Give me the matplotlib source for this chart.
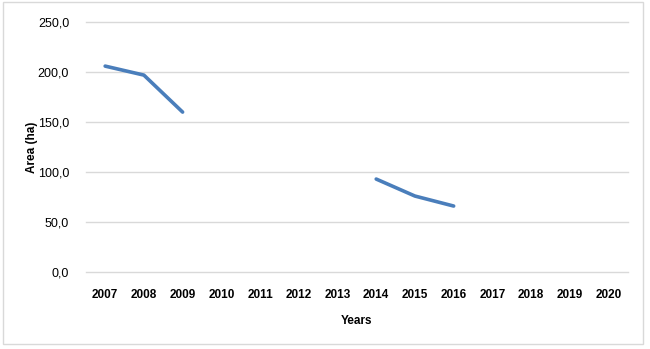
import matplotlib
matplotlib.use("Agg")
import matplotlib.pyplot as plt
import numpy as np
from matplotlib.patches import Rectangle

# --------------------  Data ----------------------- #
years = [str(y) for y in range(2007, 2021)]
area = [206, 197, 160, None, None, None, None, 93, 76, 66, None, None, None, None]
yticks = [0, 50, 100, 150, 200, 250]
ytick_labels = ["0,0", "50,0", "100,0", "150,0", "200,0", "250,0"]

# --------------------  Plot ----------------------- #
plt.rcParams['font.family'] = ['Liberation Sans', 'DejaVu Sans']

fig = plt.figure(figsize=(6.5, 3.49), dpi=100)
fig.patches.append(Rectangle((0.005, 0.015), 0.984, 0.978, transform=fig.transFigure,
                             fill=False, edgecolor='#d9d9d9', linewidth=1))
ax = fig.add_axes([0.132, 0.2206, 0.834, 0.716])

x = np.arange(len(years))
vals = np.array([np.nan if v is None else v for v in area], dtype=float)
ax.plot(x, vals, color='#4a7ebb', linewidth=2.6, solid_capstyle='round')

ax.set_xlim(-0.5, len(years) - 0.5)
ax.set_ylim(0, 250)
ax.set_yticks(yticks)
ax.set_yticklabels(ytick_labels, fontsize=9)
ax.set_xticks(x)
ax.set_xticklabels(years, fontsize=8.5, fontweight='bold')
ax.grid(axis='y', color='#d9d9d9', linewidth=1, clip_on=False)
ax.set_axisbelow(True)
for s in ax.spines.values():
    s.set_visible(False)
ax.tick_params(axis='x', length=0, pad=12)
ax.tick_params(axis='y', length=0, pad=12)

ax.set_xlabel('Years', fontsize=8.5, fontweight='bold', labelpad=10)
ax.set_ylabel('Area (ha)', fontsize=8.5, fontweight='bold', labelpad=0)

fig.savefig('out.png', dpi=100)
